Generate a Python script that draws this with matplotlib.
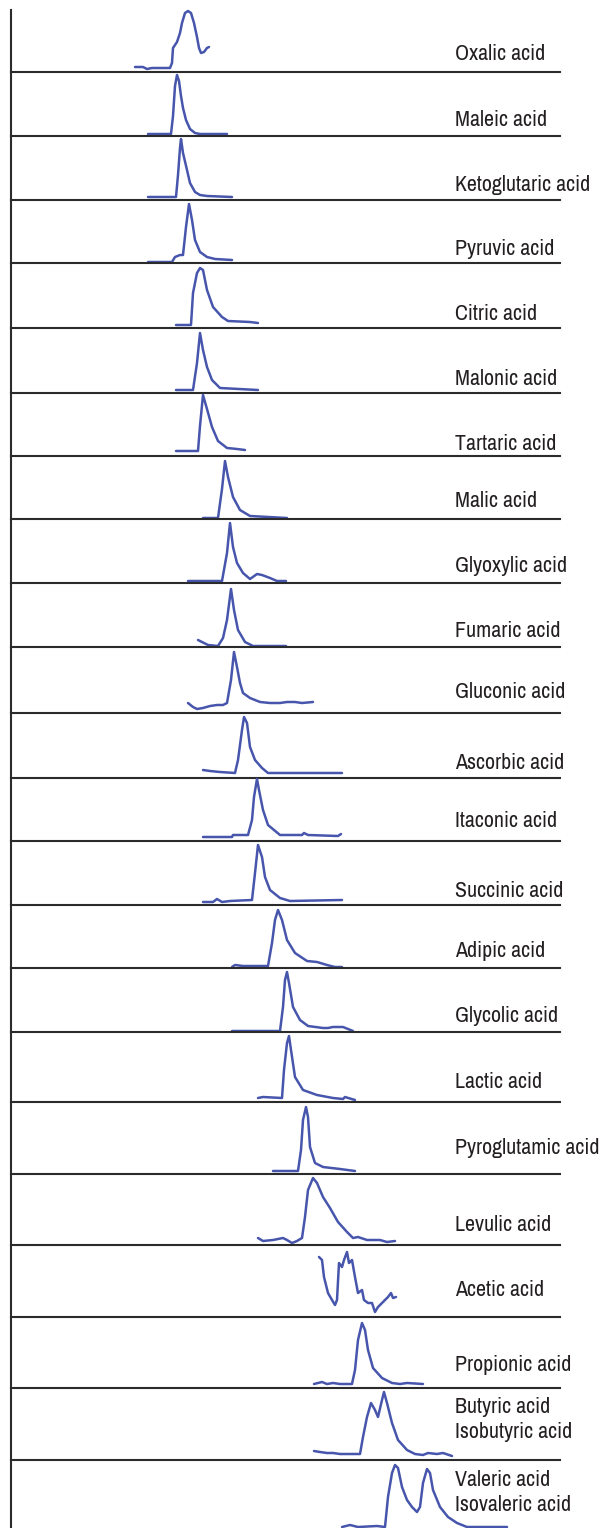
import numpy as np
import matplotlib
matplotlib.use('Agg')
import matplotlib.pyplot as plt
from matplotlib import font_manager

# a narrow sans for the labels; fall back to DejaVu Sans condensed
installed = {f.name for f in font_manager.fontManager.ttflist}
if 'Archivo Narrow' in installed:
    label_font = dict(family=['Archivo Narrow', 'DejaVu Sans'], fontsize=15.8)
else:
    label_font = dict(family=['DejaVu Sans'], fontstretch='condensed', fontsize=13)

W, H = 606, 1528

# compound names for each trace (top to bottom)
names = ['Oxalic acid', 'Maleic acid', 'Ketoglutaric acid', 'Pyruvic acid',
         'Citric acid', 'Malonic acid', 'Tartaric acid', 'Malic acid',
         'Glyoxylic acid', 'Fumaric acid', 'Gluconic acid', 'Ascorbic acid',
         'Itaconic acid', 'Succinic acid', 'Adipic acid', 'Glycolic acid',
         'Lactic acid', 'Pyroglutamic acid', 'Levulic acid', 'Acetic acid',
         'Propionic acid', 'Butyric acid\nIsobutyric acid',
         'Valeric acid\nIsovaleric acid']

# retention axis (arbitrary units) and signal for each trace
t_oxalic = [135, 143, 147, 152, 160, 170, 172, 173, 177, 180, 182, 185, 188, 191, 194, 197, 199, 201, 204, 207, 209]
s_oxalic = [5, 5, 3, 4, 4, 4, 9, 24, 30, 39, 49, 59, 61, 59, 49, 35, 24, 19, 20, 24, 25]

t_maleic = [148, 171, 173, 175, 177, 179, 181, 183, 186, 190, 195, 200, 227]
s_maleic = [2, 2, 20, 50, 61, 55, 40, 28, 16, 7, 3, 2, 2]

t_keto = [148, 176, 178, 180, 181, 183, 187, 190, 195, 200, 207, 232]
s_keto = [3, 3, 25, 52, 61, 47, 30, 17, 8, 5, 4, 3]

t_pyruvic = [148, 172, 175, 180, 183, 186, 189, 192, 195, 200, 207, 215, 232]
s_pyruvic = [1, 1, 6, 8, 8, 36, 59, 43, 23, 11, 6, 4, 3]

t_citric = [176, 191, 193, 197, 200, 203, 207, 213, 222, 228, 250, 258]
s_citric = [3, 3, 35, 55, 60, 58, 38, 21, 11, 7, 6, 5]

t_malonic = [176, 193, 197, 200, 203, 207, 212, 220, 258]
s_malonic = [3, 3, 30, 60, 43, 26, 13, 5, 3]

t_tartaric = [176, 198, 200, 203, 207, 212, 218, 227, 237, 245]
s_tartaric = [5, 5, 30, 61, 47, 29, 15, 8, 7, 6]

t_malic = [203, 218, 222, 225, 228, 233, 240, 250, 287]
s_malic = [1, 1, 30, 58, 42, 22, 9, 3, 1]

t_glyox = [188, 222, 227, 230, 233, 237, 243, 250, 257, 262, 270, 277, 286]
s_glyox = [2, 2, 30, 60, 36, 20, 10, 4, 9, 8, 5, 2, 2]

t_fumaric = [198, 208, 218, 223, 227, 231, 234, 238, 245, 253, 286]
s_fumaric = [7, 2, 1, 9, 27, 58, 37, 17, 5, 1, 1]

t_gluconic = [188, 193, 197, 203, 210, 217, 223, 227, 231, 234, 237, 240, 243, 250, 260, 270, 280, 287, 295, 302, 313]
s_gluconic = [10, 6, 4, 5, 7, 8, 8, 10, 33, 61, 46, 30, 20, 15, 11, 10, 10, 11, 11, 10, 11]

t_ascorbic = [203, 210, 220, 235, 238, 242, 244, 247, 250, 255, 262, 268, 342]
s_ascorbic = [8, 7, 6, 5, 18, 48, 61, 55, 31, 18, 10, 5, 5]

t_itaconic = [203, 232, 233, 248, 252, 254, 257, 259, 263, 268, 280, 302, 304, 308, 338, 341]
s_itaconic = [4, 4, 6, 6, 21, 44, 62, 51, 31, 16, 6, 6, 8, 6, 5, 7]

t_succinic = [203, 213, 217, 222, 230, 252, 255, 258, 262, 265, 270, 280, 290, 342]
s_succinic = [3, 3, 6, 3, 4, 5, 32, 60, 48, 28, 15, 7, 4, 5]

t_adipic = [232, 235, 243, 248, 268, 272, 275, 278, 282, 287, 295, 307, 317, 327, 335, 342]
s_adipic = [1, 3, 2, 2, 2, 25, 48, 58, 48, 28, 15, 7, 6, 3, 1, 1]

t_glycolic = [232, 280, 283, 285, 287, 289, 293, 300, 308, 323, 328, 333, 343, 353]
s_glycolic = [1, 1, 25, 52, 60, 49, 25, 12, 6, 4, 4, 5, 5, 1]

t_lactic = [258, 263, 282, 284, 287, 289, 291, 295, 303, 317, 333, 343, 345, 355]
s_lactic = [4, 5, 4, 32, 59, 66, 52, 25, 12, 7, 4, 3, 5, 2]

t_pyroglu = [273, 298, 301, 303, 306, 308, 310, 315, 323, 340, 355]
s_pyroglu = [3, 3, 24, 54, 67, 57, 27, 11, 7, 5, 3]

t_levulic = [258, 263, 273, 283, 287, 292, 297, 302, 305, 308, 313, 317, 323, 330, 338, 347, 353, 358, 367, 380, 387, 395]
s_levulic = [7, 4, 5, 7, 5, 2, 4, 7, 28, 55, 67, 62, 48, 37, 23, 13, 7, 8, 5, 5, 3, 4]

t_acetic = [319, 322, 324, 328, 332, 335, 337, 339, 342, 344, 347, 349, 352, 355, 358, 362, 364, 368, 372, 375, 378, 383, 388, 391, 393, 396]
s_acetic = [60, 57, 40, 24, 17, 12, 17, 54, 50, 57, 65, 54, 57, 40, 24, 27, 17, 14, 14, 5, 10, 15, 20, 24, 19, 20]

t_propionic = [314, 322, 327, 333, 340, 352, 355, 358, 362, 365, 368, 373, 382, 392, 400, 407, 423]
s_propionic = [4, 6, 4, 5, 4, 4, 18, 48, 65, 58, 38, 20, 10, 5, 4, 5, 4]

t_butyric = [314, 320, 327, 333, 340, 360, 363, 367, 371, 375, 378, 382, 384, 387, 392, 398, 407, 415, 423, 428, 437, 443, 452]
s_butyric = [9, 8, 7, 7, 6, 6, 23, 43, 57, 50, 43, 60, 68, 57, 37, 20, 10, 6, 5, 7, 6, 7, 4]

t_valeric = [342, 350, 358, 377, 385, 388, 392, 395, 398, 402, 407, 412, 417, 420, 423, 427, 430, 433, 440, 448, 457, 467, 477, 507]
s_valeric = [1, 3, 1, 2, 1, 31, 55, 63, 60, 41, 28, 21, 16, 21, 45, 59, 55, 38, 21, 11, 5, 1, 1, 1]

times = [t_oxalic, t_maleic, t_keto, t_pyruvic, t_citric, t_malonic, t_tartaric,
         t_malic, t_glyox, t_fumaric, t_gluconic, t_ascorbic, t_itaconic,
         t_succinic, t_adipic, t_glycolic, t_lactic, t_pyroglu, t_levulic,
         t_acetic, t_propionic, t_butyric, t_valeric]
signals = [s_oxalic, s_maleic, s_keto, s_pyruvic, s_citric, s_malonic, s_tartaric,
           s_malic, s_glyox, s_fumaric, s_gluconic, s_ascorbic, s_itaconic,
           s_succinic, s_adipic, s_glycolic, s_lactic, s_pyroglu, s_levulic,
           s_acetic, s_propionic, s_butyric, s_valeric]

# layout (pixels): panel edges and label centres
edges = [10, 72, 136, 200, 263, 328, 393, 456, 519, 583, 647, 713, 778, 841,
         905, 968, 1032, 1102, 1174, 1245, 1317, 1388, 1460, 1528]
label_y = [54, 120, 185, 249, 314, 379, 444, 501, 566, 631, 692, 763, 821, 891,
           951, 1016, 1082, 1148, 1225, 1290, 1365, 1407, 1480]
x_left, x_right = 11, 560
label_x = 455

trace_col = '#4756ac'
line_col = '#2b2b2b'

fig = plt.figure(figsize=(W / 100, H / 100), dpi=100)

for i in range(len(names)):
    top, bot = edges[i], edges[i + 1]
    ax = fig.add_axes([x_left / W, 1 - bot / H, (x_right - x_left) / W, (bot - top) / H])
    ax.plot(times[i], signals[i], color=trace_col, lw=1.8, clip_on=False,
            solid_joinstyle='round', solid_capstyle='round')
    ax.set_xlim(x_left, x_right)
    ax.set_ylim(0, bot - top)
    ax.set_xticks([])
    ax.set_yticks([])
    ax.patch.set_alpha(0)
    for side in ['top', 'right']:
        ax.spines[side].set_visible(False)
    ax.spines['left'].set_color(line_col)
    ax.spines['left'].set_linewidth(1.5)
    ax.spines['bottom'].set_color(line_col)
    ax.spines['bottom'].set_linewidth(1.5)
    if i == len(names) - 1:
        ax.spines['bottom'].set_visible(False)

    for j, txt in enumerate(names[i].split('\n')):
        fig.text(label_x / W, 1 - (label_y[i] + 25 * j) / H, txt,
                 ha='left', va='center', color='#231f20', **label_font)

fig.savefig('out.png', dpi=100)
